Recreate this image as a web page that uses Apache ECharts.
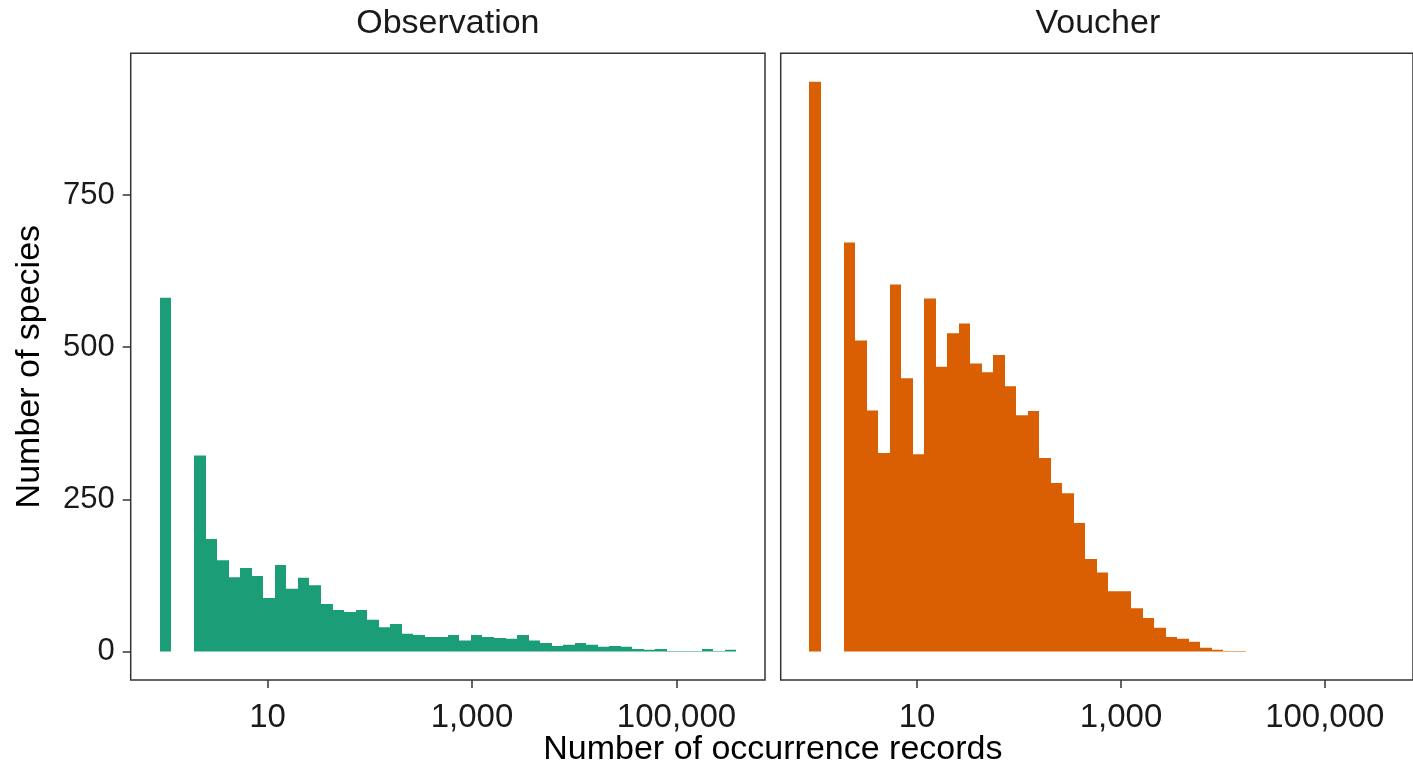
<!DOCTYPE html>
<html>
<head>
<meta charset="utf-8">
<style>
  html, body { margin: 0; padding: 0; background: #ffffff; }
  #chart { width: 1413px; height: 767px; }
</style>
<script src="https://cdn.jsdelivr.net/npm/echarts@6/dist/echarts.min.js"></script>
</head>
<body>
<div id="chart"></div>
<script>
// ---- data ----
// histogram bins: centres in log10(number of occurrence records), bin width in log10 units
const binWidth = 0.1128;
const binCenters = [
  0.0000, 0.1128, 0.2256, 0.3384, 0.4512, 0.5640, 0.6768, 0.7896, 0.9024, 1.0152,
  1.1280, 1.2408, 1.3536, 1.4664, 1.5792, 1.6920, 1.8048, 1.9176, 2.0304, 2.1432,
  2.2560, 2.3688, 2.4816, 2.5944, 2.7072, 2.8200, 2.9328, 3.0456, 3.1584, 3.2712,
  3.3840, 3.4968, 3.6096, 3.7224, 3.8352, 3.9480, 4.0608, 4.1736, 4.2864, 4.3992,
  4.5120, 4.6248, 4.7376, 4.8504, 4.9632, 5.0760, 5.1888, 5.3016, 5.4144, 5.5272
];
const panelNames = ['Observation', 'Voucher'];
const observationCounts = [
  581, 0, 0, 322, 185, 150, 122, 137, 124, 88,
  142, 103, 121, 109, 78, 68, 65, 68, 52, 40,
  45, 29, 27, 24, 24, 27, 18, 27, 24, 22,
  21, 27, 18, 14, 9, 11, 14, 11, 8, 9,
  8, 4, 3, 4, 1, 1, 1, 4, 1, 3
];
const voucherCounts = [
  936, 0, 0, 672, 511, 396, 326, 603, 449, 324,
  580, 468, 523, 539, 473, 459, 487, 436, 388, 395,
  318, 277, 260, 211, 152, 130, 99, 99, 71, 55,
  39, 24, 21, 16, 6, 3, 1, 1, 0, 0,
  0, 0, 0, 0, 0, 0, 0, 0, 0, 0
];
const xTickValues = [1, 3, 5];          // log10 positions -> 10, 1,000, 100,000
const yTickValues = [0, 250, 500, 750];
const xTitle = 'Number of occurrence records';
const yTitle = 'Number of species';
const colors = ['#1B9E77', '#D95F02'];

// ---- scales (ggplot-style 5% expansion) ----
const nBins = binCenters.length;
const xLo = binCenters[0] - binWidth / 2, xHi = binCenters[nBins - 1] + binWidth / 2;
const xPad = (xHi - xLo) * 0.05;
const xMin = xLo - xPad, xMax = xHi + xPad;
const yTop = Math.max(...observationCounts, ...voucherCounts);
const yMin = -yTop * 0.05, yMax = yTop * 1.05;

const FONT = '"Liberation Sans", Arial, Helvetica, sans-serif';
const TXT = '#1a1a1a';
const BORDER = '#333333';

const grids = [
  { left: 130.7, top: 53.3, width: 634.3, height: 626.7 },
  { left: 780.7, top: 53.3, width: 634.3, height: 626.7 }
];

function fmtRecords(v) {
  return Math.round(Math.pow(10, v)).toLocaleString('en-US');
}

function makeSeries(idx, counts) {
  return {
    type: 'custom',
    xAxisIndex: idx,
    yAxisIndex: idx,
    data: binCenters.map((c, i) => [c, counts[i]]),
    clip: true,
    silent: true,
    renderItem: function (params, api) {
      const c = api.value(0), v = api.value(1);
      if (!(v > 0)) return null;
      const p0 = api.coord([c - binWidth / 2, v]);
      const p1 = api.coord([c + binWidth / 2, 0]);
      const x0 = Math.round(p0[0]), x1 = Math.round(p1[0]);
      return {
        type: 'rect',
        shape: { x: x0, y: p0[1], width: x1 - x0, height: p1[1] - p0[1] },
        style: { fill: colors[idx] }
      };
    }
  };
}

const chart = echarts.init(document.getElementById('chart'), null, { renderer: 'canvas' });

const option = {
  animation: false,
  backgroundColor: '#ffffff',
  textStyle: { fontFamily: FONT },
  grid: grids.map(g => Object.assign({}, g, {
    show: true, borderColor: BORDER, borderWidth: 1.5, backgroundColor: 'transparent'
  })),
  xAxis: [0, 1].map(i => ({
    type: 'value', gridIndex: i, min: xMin, max: xMax, position: 'bottom',
    axisLine: { show: false, onZero: false },
    splitLine: { show: false },
    axisTick: { show: true, inside: false, customValues: xTickValues, length: 8, lineStyle: { color: BORDER, width: 1.5 } },
    axisLabel: {
      customValues: xTickValues, formatter: fmtRecords,
      fontSize: 33, color: TXT, fontFamily: FONT, margin: 21
    }
  })),
  yAxis: [0, 1].map(i => ({
    type: 'value', gridIndex: i, min: yMin, max: yMax, position: 'left',
    axisLine: { show: false, onZero: false },
    splitLine: { show: false },
    axisTick: { show: i === 0, inside: false, customValues: yTickValues, length: 8, lineStyle: { color: BORDER, width: 1.5 } },
    axisLabel: {
      show: i === 0, customValues: yTickValues,
      fontSize: 31, color: TXT, fontFamily: FONT, margin: 16
    }
  })),
  series: [makeSeries(0, observationCounts), makeSeries(1, voucherCounts)],
  graphic: [
    { type: 'text', x: grids[0].left + grids[0].width / 2, y: 24,
      style: { text: panelNames[0], fontSize: 34, fill: TXT, fontFamily: FONT, textAlign: 'center', textVerticalAlign: 'middle' } },
    { type: 'text', x: grids[1].left + grids[1].width / 2, y: 24,
      style: { text: panelNames[1], fontSize: 34, fill: TXT, fontFamily: FONT, textAlign: 'center', textVerticalAlign: 'middle' } },
    { type: 'text', x: (grids[0].left + grids[1].left + grids[1].width) / 2, y: 750,
      style: { text: xTitle, fontSize: 34, fill: '#000000', fontFamily: FONT, textAlign: 'center', textVerticalAlign: 'middle' } },
    { type: 'text', x: 30, y: grids[0].top + grids[0].height / 2, rotation: Math.PI / 2,
      style: { text: yTitle, fontSize: 34, fill: '#000000', fontFamily: FONT, textAlign: 'center', textVerticalAlign: 'middle' } }
  ]
};
chart.setOption(option);
</script>
</body>
</html>
